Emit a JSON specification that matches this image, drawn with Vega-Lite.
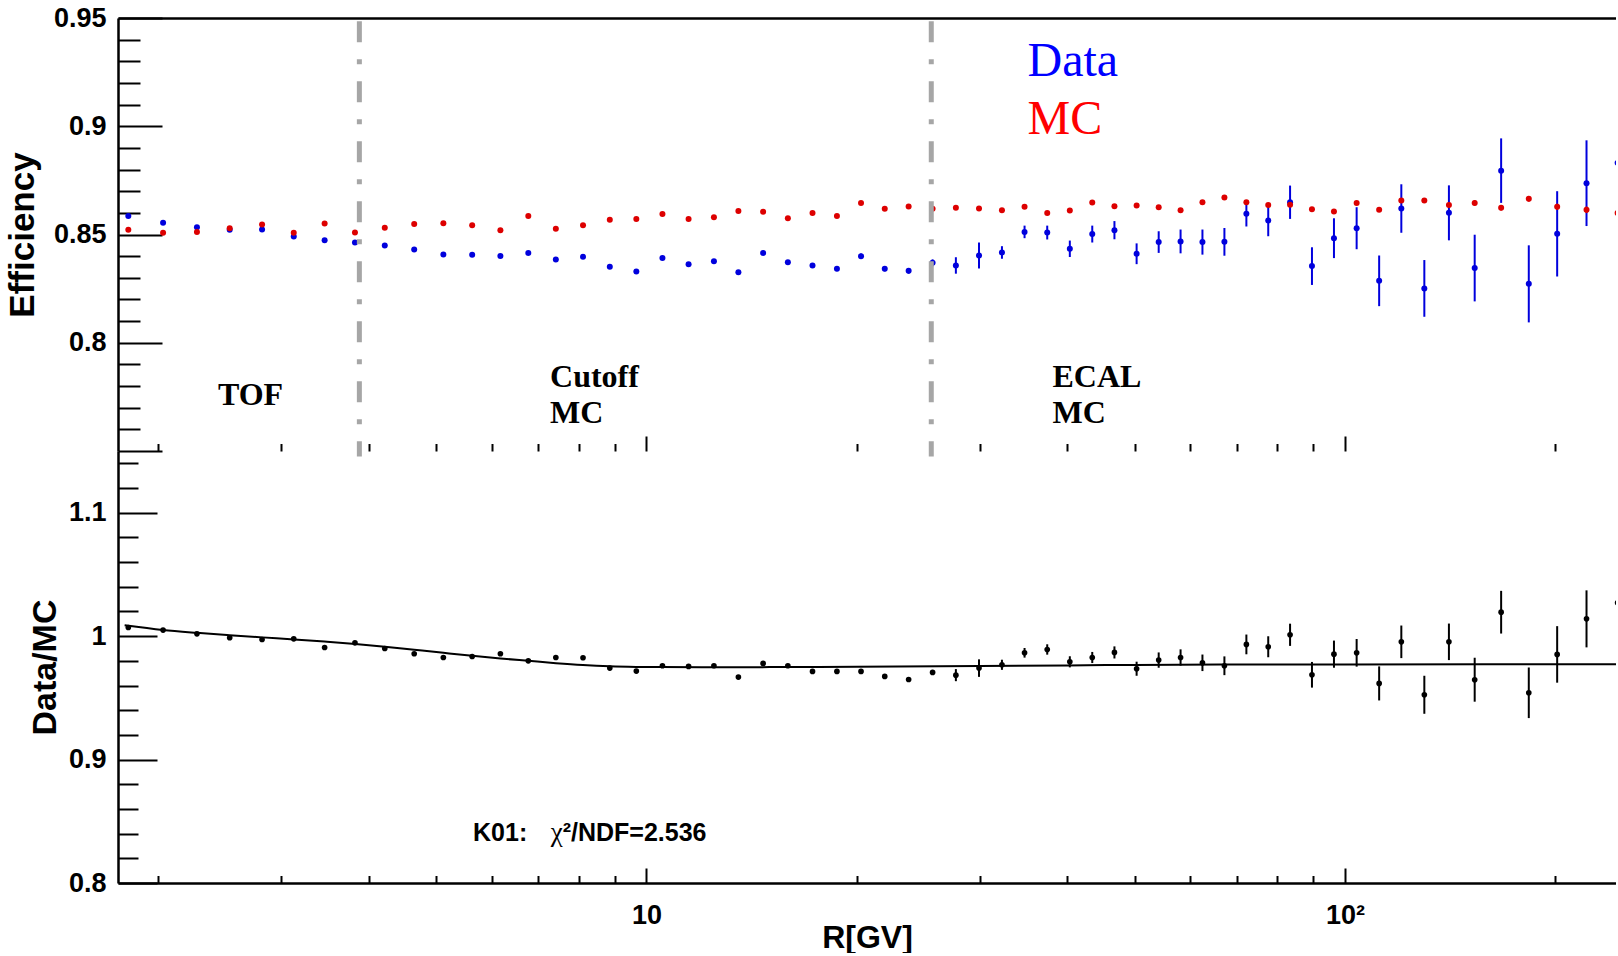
{
  "$schema": "https://vega.github.io/schema/vega-lite/v6.json",
  "background": "white",
  "padding": {"left": 5, "top": 4, "right": 0, "bottom": 0},
  "spacing": 0,
  "bounds": "flush",
  "config": {
    "view": {"stroke": null},
    "axis": {
      "labelFont": "Liberation Sans", "labelFontWeight": "bold", "labelFontSize": 27, "labelColor": "black",
      "titleFont": "Liberation Sans", "titleFontWeight": "bold", "titleColor": "black",
      "domainColor": "black", "domainWidth": 2.5, "tickColor": "black", "tickWidth": 2,
      "grid": false, "labelOverlap": false, "labelFlush": false
    }
  },
  "datasets": {
    "eff": [
      {"R": 1.812, "data": 0.8585, "dataErr": 0.0006, "mc": 0.8522, "mcErr": 0.0003},
      {"R": 2.032, "data": 0.8554, "dataErr": 0.0006, "mc": 0.8508, "mcErr": 0.0003},
      {"R": 2.272, "data": 0.8534, "dataErr": 0.0006, "mc": 0.8512, "mcErr": 0.0003},
      {"R": 2.531, "data": 0.8522, "dataErr": 0.0006, "mc": 0.8529, "mcErr": 0.0003},
      {"R": 2.816, "data": 0.8523, "dataErr": 0.0006, "mc": 0.8546, "mcErr": 0.0003},
      {"R": 3.126, "data": 0.8491, "dataErr": 0.0006, "mc": 0.8508, "mcErr": 0.0003},
      {"R": 3.461, "data": 0.8474, "dataErr": 0.0006, "mc": 0.8551, "mcErr": 0.0003},
      {"R": 3.825, "data": 0.8463, "dataErr": 0.0006, "mc": 0.8509, "mcErr": 0.0003},
      {"R": 4.220, "data": 0.8449, "dataErr": 0.0006, "mc": 0.8531, "mcErr": 0.0003},
      {"R": 4.650, "data": 0.8431, "dataErr": 0.0006, "mc": 0.8548, "mcErr": 0.0003},
      {"R": 5.119, "data": 0.8408, "dataErr": 0.0007, "mc": 0.8552, "mcErr": 0.0003},
      {"R": 5.629, "data": 0.8406, "dataErr": 0.0007, "mc": 0.8543, "mcErr": 0.0003},
      {"R": 6.178, "data": 0.8401, "dataErr": 0.0007, "mc": 0.8520, "mcErr": 0.0003},
      {"R": 6.773, "data": 0.8415, "dataErr": 0.0007, "mc": 0.8585, "mcErr": 0.0003},
      {"R": 7.417, "data": 0.8385, "dataErr": 0.0007, "mc": 0.8527, "mcErr": 0.0003},
      {"R": 8.112, "data": 0.8397, "dataErr": 0.0008, "mc": 0.8543, "mcErr": 0.0003},
      {"R": 8.861, "data": 0.8351, "dataErr": 0.0008, "mc": 0.8568, "mcErr": 0.0003},
      {"R": 9.671, "data": 0.8329, "dataErr": 0.0008, "mc": 0.8572, "mcErr": 0.0003},
      {"R": 10.540, "data": 0.8391, "dataErr": 0.0008, "mc": 0.8595, "mcErr": 0.0003},
      {"R": 11.489, "data": 0.8363, "dataErr": 0.0009, "mc": 0.8572, "mcErr": 0.0003},
      {"R": 12.490, "data": 0.8377, "dataErr": 0.0009, "mc": 0.8580, "mcErr": 0.0003},
      {"R": 13.539, "data": 0.8326, "dataErr": 0.0009, "mc": 0.8609, "mcErr": 0.0003},
      {"R": 14.688, "data": 0.8415, "dataErr": 0.0010, "mc": 0.8605, "mcErr": 0.0004},
      {"R": 15.937, "data": 0.8372, "dataErr": 0.0010, "mc": 0.8575, "mcErr": 0.0004},
      {"R": 17.286, "data": 0.8357, "dataErr": 0.0011, "mc": 0.8599, "mcErr": 0.0004},
      {"R": 18.735, "data": 0.8342, "dataErr": 0.0011, "mc": 0.8585, "mcErr": 0.0004},
      {"R": 20.284, "data": 0.8400, "dataErr": 0.0012, "mc": 0.8646, "mcErr": 0.0004},
      {"R": 21.934, "data": 0.8342, "dataErr": 0.0012, "mc": 0.8619, "mcErr": 0.0004},
      {"R": 23.731, "data": 0.8332, "dataErr": 0.0013, "mc": 0.8629, "mcErr": 0.0004},
      {"R": 25.681, "data": 0.8369, "dataErr": 0.0016, "mc": 0.8619, "mcErr": 0.0004},
      {"R": 27.730, "data": 0.8357, "dataErr": 0.0038, "mc": 0.8623, "mcErr": 0.0005},
      {"R": 29.928, "data": 0.8403, "dataErr": 0.0060, "mc": 0.8620, "mcErr": 0.0005},
      {"R": 32.278, "data": 0.8417, "dataErr": 0.0029, "mc": 0.8612, "mcErr": 0.0005},
      {"R": 34.776, "data": 0.8512, "dataErr": 0.0029, "mc": 0.8628, "mcErr": 0.0005},
      {"R": 37.474, "data": 0.8509, "dataErr": 0.0032, "mc": 0.8599, "mcErr": 0.0005},
      {"R": 40.372, "data": 0.8434, "dataErr": 0.0038, "mc": 0.8611, "mcErr": 0.0006},
      {"R": 43.471, "data": 0.8502, "dataErr": 0.0039, "mc": 0.8648, "mcErr": 0.0006},
      {"R": 46.769, "data": 0.8520, "dataErr": 0.0042, "mc": 0.8631, "mcErr": 0.0006},
      {"R": 50.316, "data": 0.8411, "dataErr": 0.0048, "mc": 0.8634, "mcErr": 0.0006},
      {"R": 54.115, "data": 0.8465, "dataErr": 0.0050, "mc": 0.8626, "mcErr": 0.0006},
      {"R": 58.162, "data": 0.8468, "dataErr": 0.0055, "mc": 0.8612, "mcErr": 0.0007},
      {"R": 62.510, "data": 0.8465, "dataErr": 0.0058, "mc": 0.8649, "mcErr": 0.0007},
      {"R": 67.205, "data": 0.8466, "dataErr": 0.0064, "mc": 0.8671, "mcErr": 0.0007},
      {"R": 72.253, "data": 0.8596, "dataErr": 0.0059, "mc": 0.8649, "mcErr": 0.0007},
      {"R": 77.650, "data": 0.8565, "dataErr": 0.0073, "mc": 0.8636, "mcErr": 0.0008},
      {"R": 83.446, "data": 0.8649, "dataErr": 0.0077, "mc": 0.8637, "mcErr": 0.0008},
      {"R": 89.691, "data": 0.8354, "dataErr": 0.0087, "mc": 0.8617, "mcErr": 0.0008},
      {"R": 96.437, "data": 0.8483, "dataErr": 0.0092, "mc": 0.8606, "mcErr": 0.0009},
      {"R": 103.923, "data": 0.8529, "dataErr": 0.0097, "mc": 0.8645, "mcErr": 0.0009},
      {"R": 111.928, "data": 0.8286, "dataErr": 0.0117, "mc": 0.8614, "mcErr": 0.0010},
      {"R": 120.416, "data": 0.8620, "dataErr": 0.0112, "mc": 0.8657, "mcErr": 0.0010},
      {"R": 129.904, "data": 0.8251, "dataErr": 0.0131, "mc": 0.8657, "mcErr": 0.0011},
      {"R": 140.872, "data": 0.8600, "dataErr": 0.0127, "mc": 0.8636, "mcErr": 0.0011},
      {"R": 153.362, "data": 0.8345, "dataErr": 0.0154, "mc": 0.8646, "mcErr": 0.0012},
      {"R": 167.332, "data": 0.8795, "dataErr": 0.0149, "mc": 0.8623, "mcErr": 0.0012},
      {"R": 183.303, "data": 0.8272, "dataErr": 0.0178, "mc": 0.8665, "mcErr": 0.0013},
      {"R": 201.276, "data": 0.8503, "dataErr": 0.0197, "mc": 0.8628, "mcErr": 0.0014},
      {"R": 221.727, "data": 0.8737, "dataErr": 0.0198, "mc": 0.8614, "mcErr": 0.0015},
      {"R": 245.656, "data": 0.8831, "dataErr": 0.0212, "mc": 0.8599, "mcErr": 0.0016}
    ],
    "ratio": [
      {"R": 1.812, "ratio": 1.0070, "err": 0.0008},
      {"R": 2.032, "ratio": 1.0049, "err": 0.0008},
      {"R": 2.272, "ratio": 1.0019, "err": 0.0008},
      {"R": 2.531, "ratio": 0.9987, "err": 0.0008},
      {"R": 2.816, "ratio": 0.9973, "err": 0.0008},
      {"R": 3.126, "ratio": 0.9978, "err": 0.0008},
      {"R": 3.461, "ratio": 0.9908, "err": 0.0008},
      {"R": 3.825, "ratio": 0.9946, "err": 0.0008},
      {"R": 4.220, "ratio": 0.9900, "err": 0.0008},
      {"R": 4.650, "ratio": 0.9857, "err": 0.0008},
      {"R": 5.119, "ratio": 0.9827, "err": 0.0009},
      {"R": 5.629, "ratio": 0.9835, "err": 0.0009},
      {"R": 6.178, "ratio": 0.9857, "err": 0.0009},
      {"R": 6.773, "ratio": 0.9800, "err": 0.0009},
      {"R": 7.417, "ratio": 0.9827, "err": 0.0009},
      {"R": 8.112, "ratio": 0.9825, "err": 0.0010},
      {"R": 8.861, "ratio": 0.9741, "err": 0.0010},
      {"R": 9.671, "ratio": 0.9717, "err": 0.0010},
      {"R": 10.540, "ratio": 0.9760, "err": 0.0010},
      {"R": 11.489, "ratio": 0.9755, "err": 0.0011},
      {"R": 12.490, "ratio": 0.9760, "err": 0.0011},
      {"R": 13.539, "ratio": 0.9668, "err": 0.0011},
      {"R": 14.688, "ratio": 0.9779, "err": 0.0012},
      {"R": 15.937, "ratio": 0.9760, "err": 0.0012},
      {"R": 17.286, "ratio": 0.9714, "err": 0.0013},
      {"R": 18.735, "ratio": 0.9714, "err": 0.0013},
      {"R": 20.284, "ratio": 0.9714, "err": 0.0014},
      {"R": 21.934, "ratio": 0.9674, "err": 0.0015},
      {"R": 23.731, "ratio": 0.9649, "err": 0.0016},
      {"R": 25.681, "ratio": 0.9706, "err": 0.0020},
      {"R": 27.730, "ratio": 0.9684, "err": 0.0049},
      {"R": 29.928, "ratio": 0.9741, "err": 0.0071},
      {"R": 32.278, "ratio": 0.9768, "err": 0.0041},
      {"R": 34.776, "ratio": 0.9865, "err": 0.0039},
      {"R": 37.474, "ratio": 0.9892, "err": 0.0042},
      {"R": 40.372, "ratio": 0.9792, "err": 0.0045},
      {"R": 43.471, "ratio": 0.9827, "err": 0.0045},
      {"R": 46.769, "ratio": 0.9868, "err": 0.0049},
      {"R": 50.316, "ratio": 0.9736, "err": 0.0057},
      {"R": 54.115, "ratio": 0.9806, "err": 0.0062},
      {"R": 58.162, "ratio": 0.9827, "err": 0.0066},
      {"R": 62.510, "ratio": 0.9784, "err": 0.0067},
      {"R": 67.205, "ratio": 0.9760, "err": 0.0076},
      {"R": 72.253, "ratio": 0.9933, "err": 0.0080},
      {"R": 77.650, "ratio": 0.9914, "err": 0.0085},
      {"R": 83.446, "ratio": 1.0011, "err": 0.0090},
      {"R": 89.691, "ratio": 0.9687, "err": 0.0104},
      {"R": 96.437, "ratio": 0.9854, "err": 0.0110},
      {"R": 103.923, "ratio": 0.9865, "err": 0.0112},
      {"R": 111.928, "ratio": 0.9617, "err": 0.0138},
      {"R": 120.416, "ratio": 0.9954, "err": 0.0132},
      {"R": 129.904, "ratio": 0.9525, "err": 0.0154},
      {"R": 140.872, "ratio": 0.9954, "err": 0.0148},
      {"R": 153.362, "ratio": 0.9647, "err": 0.0178},
      {"R": 167.332, "ratio": 1.0194, "err": 0.0173},
      {"R": 183.303, "ratio": 0.9541, "err": 0.0205},
      {"R": 201.276, "ratio": 0.9852, "err": 0.0229},
      {"R": 221.727, "ratio": 1.0140, "err": 0.0231},
      {"R": 245.656, "ratio": 1.0270, "err": 0.0245}
    ],
    "fit": [
      {"R": 1.79, "fit": 1.0088}, {"R": 2.03, "fit": 1.0050}, {"R": 2.27, "fit": 1.0027},
      {"R": 2.53, "fit": 1.0008}, {"R": 2.82, "fit": 0.9990}, {"R": 3.13, "fit": 0.9973},
      {"R": 3.46, "fit": 0.9956}, {"R": 3.83, "fit": 0.9937}, {"R": 4.22, "fit": 0.9915},
      {"R": 4.65, "fit": 0.9890}, {"R": 5.12, "fit": 0.9865}, {"R": 5.63, "fit": 0.9841},
      {"R": 6.18, "fit": 0.9819}, {"R": 6.77, "fit": 0.9800}, {"R": 7.42, "fit": 0.9781},
      {"R": 8.11, "fit": 0.9766}, {"R": 8.86, "fit": 0.9756}, {"R": 9.67, "fit": 0.9751},
      {"R": 10.5, "fit": 0.9749}, {"R": 12, "fit": 0.9748}, {"R": 15, "fit": 0.9749},
      {"R": 20, "fit": 0.9752}, {"R": 30, "fit": 0.9758}, {"R": 40, "fit": 0.9763},
      {"R": 50, "fit": 0.9767}, {"R": 70, "fit": 0.9770}, {"R": 100, "fit": 0.9771},
      {"R": 246, "fit": 0.9772}
    ],
    "cuts": [
      {"R": 3.881, "y1": 0.9485, "y2": 0.7475},
      {"R": 25.57, "y1": 0.9485, "y2": 0.7475}
    ],
    "legend": [
      {"R": 35.12, "v": 0.9234, "label": "Data", "col": "#0000ff"},
      {"R": 35.12, "v": 0.8964, "label": "MC", "col": "#ff0000"}
    ],
    "regions": [
      {"R": 2.4345, "v": 0.7711, "label": "TOF"},
      {"R": 7.276, "v": 0.7796, "label": "Cutoff"},
      {"R": 7.276, "v": 0.7628, "label": "MC"},
      {"R": 38.13, "v": 0.7796, "label": "ECAL"},
      {"R": 38.13, "v": 0.7628, "label": "MC"}
    ],
    "stat": [
      {"R": 5.645, "v": 0.8337, "label": "K01:", "part": "k"},
      {"R": 7.293, "v": 0.8337, "label": "χ", "part": "chi"},
      {"R": 7.585, "v": 0.8337, "label": "²/NDF=2.536", "part": "rest"}
    ]
  },
  "vconcat": [
    {
      "width": 1498,
      "height": 433,
      "layer": [
        {
          "data": {"name": "eff"},
          "mark": {"type": "errorbar", "color": "#0000dd", "thickness": 2, "clip": true},
          "encoding": {
            "x": {"field": "R", "type": "quantitative", "scale": {"type": "log", "domain": [1.7514, 244.36], "nice": false},
                  "axis": {"orient": "bottom", "values": [10, 100], "tickSize": -15, "labels": false, "domain": false, "title": null}},
            "y": {"field": "data", "type": "quantitative", "scale": {"domain": [0.75, 0.95], "nice": false, "zero": false},
                  "axis": {"orient": "left", "values": [0.8, 0.85, 0.9, 0.95], "ticks": false, "domain": true, "format": "~g", "labelPadding": 12,
                           "title": "Efficiency", "titleFontSize": 35, "titleX": -78}},
            "yError": {"field": "dataErr"}
          }
        },
        {
          "data": {"name": "eff"},
          "mark": {"type": "circle", "size": 36, "color": "#0000dd", "opacity": 1, "clip": true},
          "encoding": {
            "x": {"field": "R", "type": "quantitative", "scale": {"type": "log", "domain": [1.7514, 244.36], "nice": false},
                  "axis": {"orient": "bottom", "values": [2, 3, 4, 5, 6, 7, 8, 9, 20, 30, 40, 50, 60, 70, 80, 90, 200], "tickSize": -7.5, "labels": false, "domain": false, "title": null}},
            "y": {"field": "data", "type": "quantitative", "scale": {"domain": [0.75, 0.95], "nice": false, "zero": false},
                  "axis": {"orient": "left", "values": [0.75, 0.8, 0.85, 0.9, 0.95], "tickSize": -44, "labels": false, "domain": false, "title": null}}
          }
        },
        {
          "data": {"name": "eff"},
          "mark": {"type": "errorbar", "color": "#dd0000", "thickness": 2, "clip": true},
          "encoding": {
            "x": {"field": "R", "type": "quantitative", "scale": {"type": "log", "domain": [1.7514, 244.36], "nice": false},
                  "axis": {"orient": "top", "ticks": false, "labels": false, "domain": true, "title": null}},
            "y": {"field": "mc", "type": "quantitative", "scale": {"domain": [0.75, 0.95], "nice": false, "zero": false},
                  "axis": {"orient": "left", "values": [0.76, 0.77, 0.78, 0.79, 0.81, 0.82, 0.83, 0.84, 0.86, 0.87, 0.88, 0.89, 0.91, 0.92, 0.93, 0.94], "tickSize": -22, "labels": false, "domain": false, "title": null}},
            "yError": {"field": "mcErr"}
          }
        },
        {
          "data": {"name": "eff"},
          "mark": {"type": "circle", "size": 36, "color": "#dd0000", "opacity": 1, "clip": true},
          "encoding": {
            "x": {"field": "R", "type": "quantitative", "scale": {"type": "log", "domain": [1.7514, 244.36], "nice": false}, "axis": null},
            "y": {"field": "mc", "type": "quantitative", "scale": {"domain": [0.75, 0.95], "nice": false, "zero": false}, "axis": null}
          }
        },
        {
          "data": {"name": "cuts"},
          "mark": {"type": "rule", "color": "#a6a6a6", "strokeWidth": 5, "strokeDash": [21, 17, 5, 17]},
          "encoding": {
            "x": {"field": "R", "type": "quantitative", "scale": {"type": "log", "domain": [1.7514, 244.36], "nice": false}, "axis": null},
            "y": {"field": "y1", "type": "quantitative", "scale": {"domain": [0.75, 0.95], "nice": false, "zero": false}, "axis": null},
            "y2": {"field": "y2"}
          }
        },
        {
          "data": {"name": "legend"},
          "mark": {"type": "text", "font": "Liberation Serif", "fontSize": 48, "align": "left", "baseline": "alphabetic"},
          "encoding": {
            "x": {"field": "R", "type": "quantitative", "scale": {"type": "log", "domain": [1.7514, 244.36], "nice": false}, "axis": null},
            "y": {"field": "v", "type": "quantitative", "scale": {"domain": [0.75, 0.95], "nice": false, "zero": false}, "axis": null},
            "text": {"field": "label"},
            "color": {"field": "col", "type": "nominal", "scale": null}
          }
        },
        {
          "data": {"name": "regions"},
          "mark": {"type": "text", "font": "Liberation Serif", "fontWeight": "bold", "fontSize": 32, "align": "left", "baseline": "alphabetic", "color": "black"},
          "encoding": {
            "x": {"field": "R", "type": "quantitative", "scale": {"type": "log", "domain": [1.7514, 244.36], "nice": false}, "axis": null},
            "y": {"field": "v", "type": "quantitative", "scale": {"domain": [0.75, 0.95], "nice": false, "zero": false}, "axis": null},
            "text": {"field": "label"}
          }
        }
      ],
      "resolve": {"axis": {"x": "independent", "y": "independent"}}
    },
    {
      "width": 1498,
      "height": 432,
      "layer": [
        {
          "data": {"name": "fit"},
          "mark": {"type": "line", "color": "black", "strokeWidth": 2, "interpolate": "monotone", "clip": true},
          "encoding": {
            "x": {"field": "R", "type": "quantitative", "scale": {"type": "log", "domain": [1.7514, 244.36], "nice": false},
                  "axis": {"orient": "bottom", "values": [10, 100], "labelExpr": "datum.value == 100 ? '10²' : '10'", "ticks": false, "domain": true, "labelPadding": 19,
                           "title": "R[GV]", "titleFontSize": 32, "titleBaseline": "alphabetic", "titleY": 64}},
            "y": {"field": "fit", "type": "quantitative", "scale": {"domain": [0.8, 1.15], "nice": false, "zero": false},
                  "axis": {"orient": "left", "values": [0.8, 0.9, 1, 1.1], "ticks": false, "domain": true, "format": "~g", "labelPadding": 12,
                           "title": "Data/MC", "titleFontSize": 34, "titleX": -56}}
          }
        },
        {
          "data": {"name": "ratio"},
          "mark": {"type": "errorbar", "color": "black", "thickness": 2, "clip": true},
          "encoding": {
            "x": {"field": "R", "type": "quantitative", "scale": {"type": "log", "domain": [1.7514, 244.36], "nice": false},
                  "axis": {"orient": "bottom", "values": [10, 100], "tickSize": -15, "labels": false, "domain": false, "title": null}},
            "y": {"field": "ratio", "type": "quantitative", "scale": {"domain": [0.8, 1.15], "nice": false, "zero": false},
                  "axis": {"orient": "left", "values": [0.8, 0.9, 1, 1.1], "tickSize": -39, "labels": false, "domain": false, "title": null}},
            "yError": {"field": "err"}
          }
        },
        {
          "data": {"name": "ratio"},
          "mark": {"type": "circle", "size": 32, "color": "black", "opacity": 1, "clip": true},
          "encoding": {
            "x": {"field": "R", "type": "quantitative", "scale": {"type": "log", "domain": [1.7514, 244.36], "nice": false},
                  "axis": {"orient": "bottom", "values": [2, 3, 4, 5, 6, 7, 8, 9, 20, 30, 40, 50, 60, 70, 80, 90, 200], "tickSize": -7.5, "labels": false, "domain": false, "title": null}},
            "y": {"field": "ratio", "type": "quantitative", "scale": {"domain": [0.8, 1.15], "nice": false, "zero": false},
                  "axis": {"orient": "left", "values": [0.82, 0.84, 0.86, 0.88, 0.92, 0.94, 0.96, 0.98, 1.02, 1.04, 1.06, 1.08, 1.12, 1.14], "tickSize": -20, "labels": false, "domain": false, "title": null}}
          }
        },
        {
          "data": {"name": "stat"},
          "transform": [{"filter": {"field": "part", "equal": "k"}}],
          "mark": {"type": "text", "font": "Liberation Sans", "fontWeight": "bold", "fontSize": 25, "align": "left", "baseline": "alphabetic", "color": "black"},
          "encoding": {
            "x": {"field": "R", "type": "quantitative", "scale": {"type": "log", "domain": [1.7514, 244.36], "nice": false}, "axis": null},
            "y": {"field": "v", "type": "quantitative", "scale": {"domain": [0.8, 1.15], "nice": false, "zero": false}, "axis": null},
            "text": {"field": "label"}
          }
        },
        {
          "data": {"name": "stat"},
          "transform": [{"filter": {"field": "part", "equal": "chi"}}],
          "mark": {"type": "text", "font": "Liberation Serif", "fontSize": 27, "align": "left", "baseline": "alphabetic", "color": "black"},
          "encoding": {
            "x": {"field": "R", "type": "quantitative", "scale": {"type": "log", "domain": [1.7514, 244.36], "nice": false}, "axis": null},
            "y": {"field": "v", "type": "quantitative", "scale": {"domain": [0.8, 1.15], "nice": false, "zero": false}, "axis": null},
            "text": {"field": "label"}
          }
        },
        {
          "data": {"name": "stat"},
          "transform": [{"filter": {"field": "part", "equal": "rest"}}],
          "mark": {"type": "text", "font": "Liberation Sans", "fontWeight": "bold", "fontSize": 25, "align": "left", "baseline": "alphabetic", "color": "black"},
          "encoding": {
            "x": {"field": "R", "type": "quantitative", "scale": {"type": "log", "domain": [1.7514, 244.36], "nice": false}, "axis": null},
            "y": {"field": "v", "type": "quantitative", "scale": {"domain": [0.8, 1.15], "nice": false, "zero": false}, "axis": null},
            "text": {"field": "label"}
          }
        }
      ],
      "resolve": {"axis": {"x": "independent", "y": "independent"}}
    }
  ]
}
